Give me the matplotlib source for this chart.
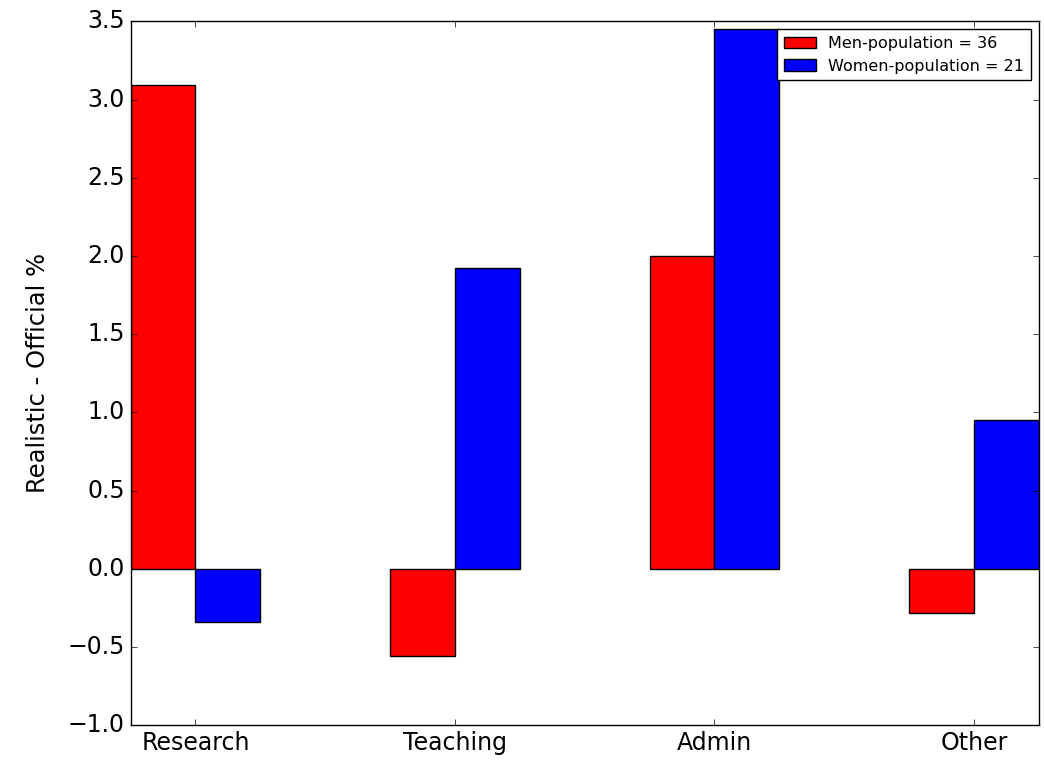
import numpy as np
import matplotlib
matplotlib.use('Agg')
import matplotlib.pyplot as plt

# Data
categories = ['Research', 'Teaching', 'Admin', 'Other']
men_diff = [3.09, -0.56, 2.00, -0.28]
women_diff = [-0.34, 1.92, 3.45, 0.95]
men_label = 'Men-population = 36'
women_label = 'Women-population = 21'

plt.style.use('classic')

fig = plt.figure(figsize=(10.44, 7.61), dpi=100)
ax = fig.add_axes([0.125, 0.047, 0.87, 0.925])

index = np.arange(len(categories))
width = 0.25

ax.bar(index, men_diff, width, align='edge', color='r', label=men_label)
ax.bar(index + width, women_diff, width, align='edge', color='b', label=women_label)

ax.set_xlim(0, 3.5)
ax.set_ylim(-1.0, 3.5)
ax.set_xticks(index + width)
ax.set_xticklabels(categories)
ax.set_ylabel('Realistic - Official %', fontsize=17.5, labelpad=13)
ax.tick_params(labelsize=17)
ax.legend(loc='upper right', fontsize=11.5)

fig.savefig('out.png', dpi=100)
